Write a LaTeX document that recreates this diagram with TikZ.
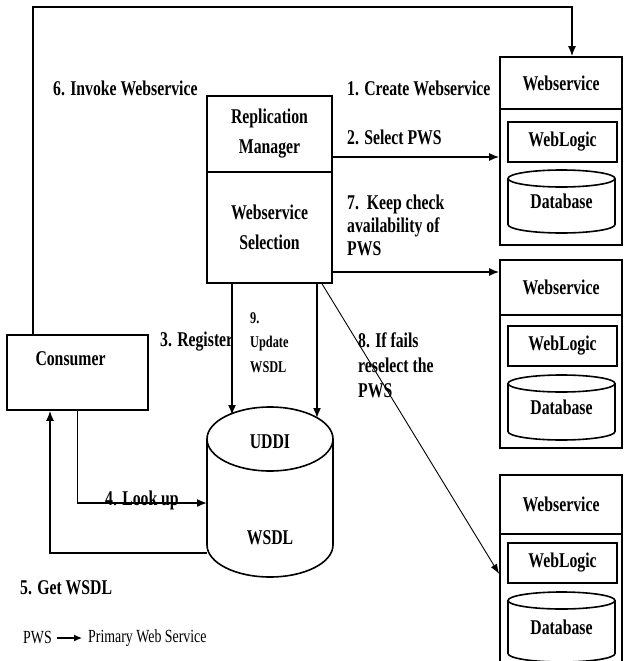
\documentclass[tikz,border=0pt]{standalone}
\usepackage{fontspec}
\setmainfont{Liberation Serif}[FakeStretch=0.75]
\usetikzlibrary{arrows.meta,positioning,calc}
\newcommand{\boxfont}{\bfseries\fontsize{21}{30}\selectfont}
% cylinder outline inside a node: node, x radius, y radius
\newcommand{\drum}[3]{%
  \draw[line width=1.6pt]
    ([yshift=-#3]#1.north west) -- ([yshift=#3]#1.south west)
    arc[start angle=180, end angle=360, x radius=#2, y radius=#3]
    -- ([yshift=-#3]#1.north east)
    arc[start angle=0, end angle=360, x radius=#2, y radius=#3];}

\begin{document}
\begin{tikzpicture}[
  x=1pt, y=-1pt,
  >={Latex[length=10pt,width=8pt]},
  box/.style={
    draw=black,
    line width=1.6pt,
    align=center,
    font=\boxfont,
    inner sep=0pt
  },
  wshead/.style={box, minimum width=122pt},
  wsbody/.style={box, minimum width=122pt},
  logic/.style={box, minimum width=109pt, minimum height=40pt},
  store/.style={font=\boxfont, inner sep=0pt, outer sep=0pt},
  db/.style={store, minimum width=107pt},
  arr/.style={->, line width=1.6pt},
  thin arr/.style={->, line width=0.9pt, >={Latex[length=10pt,width=7pt]}},
  lbl/.style={font=\bfseries\fontsize{21}{24}\selectfont, align=left,
              anchor=west, inner sep=0pt},
  legend/.style={lbl, font=\fontsize{18.5}{20}\selectfont},
]
\useasboundingbox (0,0) rectangle (625,661);
\clip (0,0) rectangle (625,661);

% Replication manager.
\node[box, minimum width=125pt, minimum height=76pt] (rm) at (269.5,134)
  {Replication\\Manager};
\node[box, minimum width=125pt, minimum height=111pt] (wss) at (269.5,227.5)
  {Webservice\\Selection};

% Consumer and registry.
\node[box, minimum width=141pt, minimum height=75pt,
      label={[font=\boxfont, xshift=-7pt, yshift=13.5pt]center:Consumer}]
  (consumer) at (77.5,372.5) {};
\node[store, minimum width=126pt, minimum height=170pt] (uddi) at (270,492) {};
\drum{uddi}{63pt}{32pt}
\node[font=\boxfont] (uddilbl) at (270,442) {UDDI};
\node[font=\boxfont] (wsdllbl) at (270,538) {WSDL};

% Webservice 1.
\node[wshead, minimum height=52pt] (ws1) at (561,83) {Webservice};
\node[wsbody, minimum height=136pt] (ws1b) at (561,177) {};
\node[logic] (wl1) at (562.5,142) {WebLogic};
\node[db, minimum height=63pt] (db1) at (561.5,201.5) {Database};
\drum{db1}{53.5pt}{8.5pt}

% Webservice 2.
\node[wshead, minimum height=55pt] (ws2) at (561,287.5) {Webservice};
\node[wsbody, minimum height=133pt] (ws2b) at (561,381.5) {};
\node[logic] (wl2) at (562.5,346) {WebLogic};
\node[db, minimum height=65pt] (db2) at (561.5,407.5) {Database};
\drum{db2}{53.5pt}{8.5pt}

% Webservice 3.
\node[wshead, minimum height=59pt] (ws3) at (561,504.5) {Webservice};
\node[wsbody, minimum height=136pt] (ws3b) at (561,602) {};
\node[logic] (wl3) at (562.5,563) {WebLogic};
\node[db, minimum height=70pt] (db3) at (561.5,627) {Database};
\drum{db3}{53.5pt}{8.5pt}

% Labels.
\node[lbl] (invoke) at (53,88) {6. Invoke Webservice};
\node[lbl] (create) at (347,88) {1. Create Webservice};
\node[lbl] (select) at (347,137) {2. Select PWS};
\node[lbl, font=\bfseries\fontsize{21}{23}\selectfont] (check) at (347,225.5)
  {7.\ \ Keep check\\availability of\\PWS};
\node[lbl] (register) at (160,342) {3. Register};
\node[lbl, font=\bfseries\fontsize{16.4}{24.5}\selectfont] (update) at (250,342.5)
  {9.\\Update\\WSDL};
\node[lbl, font=\bfseries\fontsize{21}{25}\selectfont] (fails) at (358,365)
  {8. If fails\\reselect the\\PWS};
\node[lbl] (lookup) at (105,500) {4. Look up};
\node[lbl] (getwsdl) at (20,588) {5. Get WSDL};

% Legend.
\node[legend] (pws) at (23,638) {PWS};
\node[legend] (pwsdef) at (88,638) {Primary Web Service};

% Connectors.
\coordinate (top) at (0,7);
\draw[arr] ([xshift=-44.5pt]consumer.north) -- ([xshift=-44.5pt]consumer.north |- top)
  -| ([xshift=11pt]ws1.north);
\draw[arr] ([yshift=-23pt]rm.east) -- ([yshift=-23pt]rm.east -| ws1b.west);
\draw[arr] ([yshift=-44.5pt]wss.east) -- ([yshift=-44.5pt]wss.east -| ws2.west);
\draw[arr] ([xshift=-37.5pt]wss.south) -- ($(uddi.north)+(-38,8)$);
\draw[arr] ([xshift=47.5pt]wss.south) -- ($(uddi.north)+(47,11)$);
\draw[thin arr] ([xshift=52.5pt]wss.south) -- ([yshift=28pt]ws3b.west);
\draw[arr] (consumer.south) |- ([yshift=-11pt]uddi.west);
\draw[arr] ([yshift=-61pt]uddi.west) -| ([xshift=-27.5pt]consumer.south);
\draw[->, line width=1.2pt, >={Latex[length=8pt,width=7pt]},
      shorten <=5pt, shorten >=6pt]
  (pws) -- (pwsdef);

\end{tikzpicture}
\end{document}
